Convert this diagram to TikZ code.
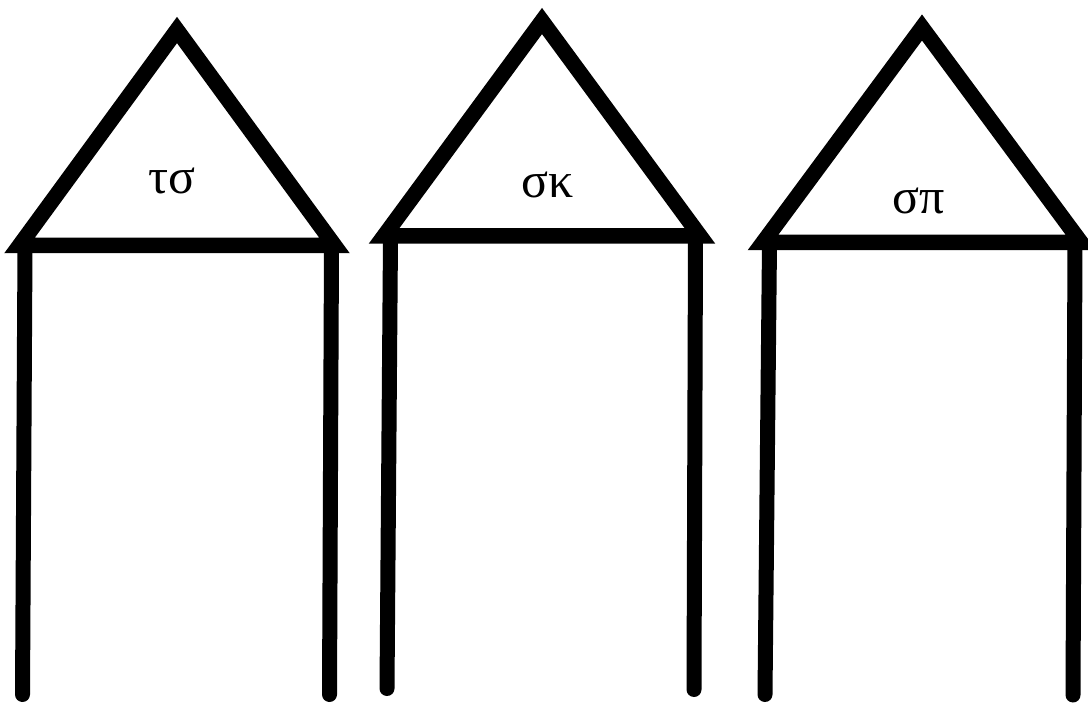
\documentclass[tikz,border=0pt]{standalone}
\usepackage{fontspec}
\setmainfont{Liberation Serif}
\begin{document}
\begin{tikzpicture}[x=1pt,y=-1pt,
  roof/.style={draw=black,line width=15.5pt,line join=miter},
  leg/.style={draw=black,line width=15pt,line cap=round},
  lbl/.style={inner sep=0pt,font=\fontsize{50}{50}\selectfont}]
\useasboundingbox (0,0) rectangle (1088,703);
% house 1
\coordinate (a1) at (177,30);
\coordinate (l1) at (19.5,245.5);
\coordinate (r1) at (334.5,245.5);
\draw[roof] (a1) -- (l1) -- (r1) -- cycle;
\coordinate (l1t) at (25,247);
\coordinate (l1b) at (22.5,694.5);
\coordinate (r1t) at (331.5,247);
\coordinate (r1b) at (329.5,694.5);
\draw[leg] (l1t) -- (l1b);
\draw[leg] (r1t) -- (r1b);
\node[lbl] (t1) at (172,181) {τσ};
% house 2
\coordinate (a2) at (542,21);
\coordinate (l2) at (384,236);
\coordinate (r2) at (700,236);
\draw[roof] (a2) -- (l2) -- (r2) -- cycle;
\coordinate (l2t) at (390.5,238);
\coordinate (l2b) at (387,688.5);
\coordinate (r2t) at (695.5,238);
\coordinate (r2b) at (694,689.5);
\draw[leg] (l2t) -- (l2b);
\draw[leg] (r2t) -- (r2b);
\node[lbl] (t2) at (547.5,185) {σκ};
% house 3
\coordinate (a3) at (922,27.5);
\coordinate (l3) at (763,242.5);
\coordinate (r3) at (1081,242.5);
\draw[roof] (a3) -- (l3) -- (r3) -- cycle;
\coordinate (l3t) at (769.5,244);
\coordinate (l3b) at (765,694.5);
\coordinate (r3t) at (1075,244);
\coordinate (r3b) at (1073,695);
\draw[leg] (l3t) -- (l3b);
\draw[leg] (r3t) -- (r3b);
\node[lbl] (t3) at (918.5,201) {σπ};
\end{tikzpicture}
\end{document}
